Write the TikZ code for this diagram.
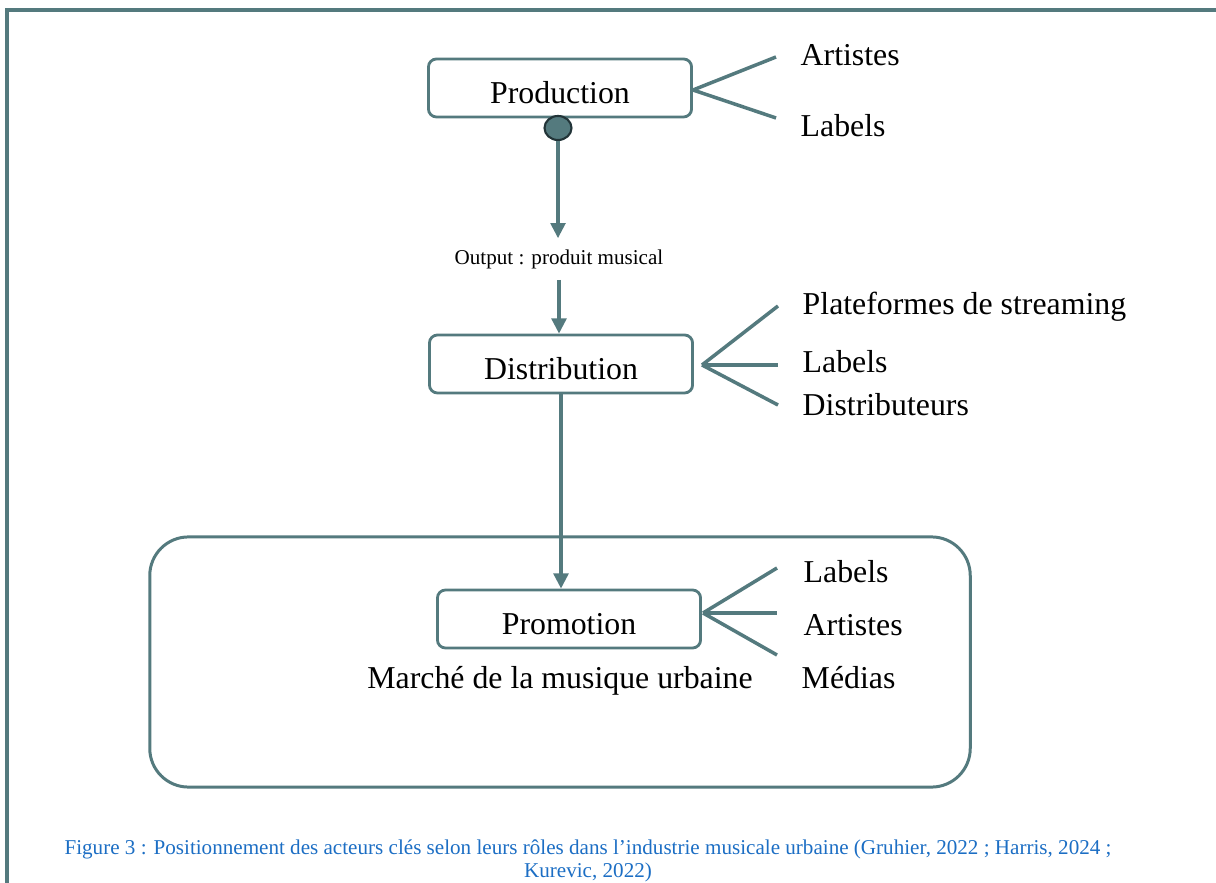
\documentclass[tikz,border=0pt]{standalone}
\usepackage{fontspec}
\setmainfont{Liberation Serif}
\usetikzlibrary{arrows.meta,shapes.geometric}

\definecolor{ardoise}{RGB}{84,122,126}
\definecolor{ardoisefonce}{RGB}{34,52,56}
\definecolor{legende}{RGB}{28,110,196}

\begin{document}
\begin{tikzpicture}[x=0.01cm, y=-0.01cm,
    etape/.style={draw=ardoise, line width=0.8pt, rounded corners=2.3pt,
      minimum width=2.63cm, minimum height=0.58cm, inner sep=0pt,
      text height=0.9em, text depth=0pt, font=\fontsize{9.05}{10}\selectfont},
    acteur/.style={anchor=base west, inner sep=0pt, font=\fontsize{9.05}{10}\selectfont},
    branche/.style={ardoise, line width=1pt},
    fleche/.style={ardoise, line width=0.9pt, -{Triangle[length=4.3pt, width=4.2pt]}}]

  \useasboundingbox (0,0) rectangle (1216,883);
  % cadre
  \draw[ardoise, line width=0.9pt] (7,883) -- (7,10) -- (1216,10);

  % marche
  \node[draw=ardoise, line width=0.85pt, rounded corners=11pt,
    minimum width=8.2cm, minimum height=2.5cm] (marche) at (560,662) {};
  \node[anchor=base, inner sep=0pt, font=\fontsize{9.05}{10}\selectfont]
    (marchelabel) at (560,689) {Marché de la musique urbaine};

  % etapes
  \node[etape] (production) at (560,88) {Production};
  \node[etape] (distribution) at (561,364) {Distribution};
  \node[etape] (promotion) at (569,619) {Promotion};

  \node[ellipse, fill=ardoise, draw=ardoisefonce, line width=0.6pt, inner sep=0pt,
    minimum width=0.27cm, minimum height=0.24cm] (sortie) at (558,128) {};
  \node[font=\fontsize{6}{7}\selectfont, inner sep=3pt] (output) at (559,259)
    {Output : produit musical};

  \draw[fleche] (sortie) -- (sortie |- output.north);
  \draw[fleche] (output) -- (output |- distribution.north);
  \draw[fleche] (distribution.south) -- (distribution.south |- promotion.north);

  % acteurs production
  \coordinate (pa) at (693,90);
  \coordinate (pa1) at (776,57);
  \coordinate (pa2) at (776,118);
  \foreach \c in {pa1,pa2} \draw[branche] (pa) -- (\c);
  \node[acteur] (artistes1) at (800,66) {Artistes};
  \node[acteur] (labels1) at (800,137) {Labels};

  % acteurs distribution
  \coordinate (da) at (702,365);
  \coordinate (da1) at (778,306);
  \coordinate (da2) at (778,365);
  \coordinate (da3) at (778,405);
  \foreach \c in {da1,da2,da3} \draw[branche] (da) -- (\c);
  \node[acteur] (plateformes) at (802,315) {Plateformes de streaming};
  \node[acteur] (labels2) at (802,373) {Labels};
  \node[acteur] (distributeurs) at (802,416) {Distributeurs};

  % acteurs promotion
  \coordinate (ma) at (703,613);
  \coordinate (ma1) at (777,568);
  \coordinate (ma2) at (777,613);
  \coordinate (ma3) at (777,655);
  \foreach \c in {ma1,ma2,ma3} \draw[branche] (ma) -- (\c);
  \node[acteur] (labels3) at (803,583) {Labels};
  \node[acteur] (artistes3) at (803,636) {Artistes};
  \node[acteur] (medias) at (801,688) {Médias};

  % legende
  \node[align=center, text=legende, inner sep=0pt,
    font=\fontsize{6}{6.4}\selectfont] (figure) at (588,861)
    {Figure 3 : Positionnement des acteurs clés selon leurs rôles dans l’industrie musicale urbaine (Gruhier, 2022 ; Harris, 2024 ;\\
     Kurevic, 2022)};
\end{tikzpicture}
\end{document}
